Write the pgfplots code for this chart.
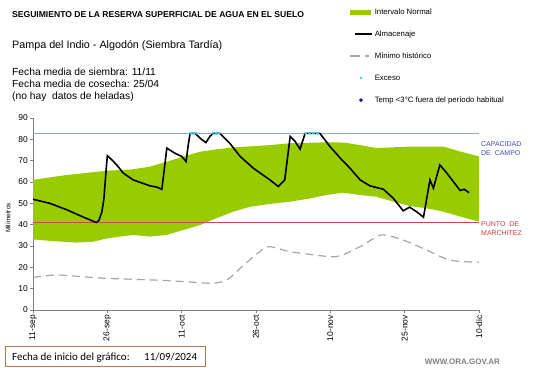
\documentclass[border=0pt]{standalone}
\usepackage{pgfplots}
\pgfplotsset{compat=1.18}
\usepackage{fontspec}
\setmainfont{Liberation Sans}
\newfontfamily\calibri{Carlito}
\definecolor{bandgreen}{HTML}{99CC00}
\definecolor{capblue}{HTML}{8FA8D8}
\definecolor{wiltred}{HTML}{C0504D}
\definecolor{labblue}{HTML}{4646B4}
\definecolor{labred}{HTML}{C83C3C}
\definecolor{mingray}{HTML}{A6A6A6}
\definecolor{excyan}{HTML}{33CCDD}
\definecolor{tempnavy}{HTML}{1A1A8C}
\definecolor{axgray}{HTML}{7F7F7F}
\begin{document}
\begin{tikzpicture}
\useasboundingbox (0,0) rectangle (541bp,368bp);
% texts
\node[anchor=base west, inner sep=0, font=\bfseries\fontsize{8.6}{10}\selectfont] at (12bp,350bp) {SEGUIMIENTO DE LA RESERVA SUPERFICIAL DE AGUA EN EL SUELO};
\node[anchor=base west, inner sep=0, font=\fontsize{10.8}{12}\selectfont] at (12bp,319bp) {Pampa del Indio - Algodón (Siembra Tardía)};
\node[anchor=base west, inner sep=0, font=\fontsize{10.3}{12}\selectfont] at (12bp,292bp) {Fecha media de siembra: 11/11};
\node[anchor=base west, inner sep=0, font=\fontsize{10.3}{12}\selectfont] at (12bp,280bp) {Fecha media de cosecha: 25/04};
\node[anchor=base west, inner sep=0, font=\fontsize{10.3}{12}\selectfont] at (12bp,268bp) {(no hay\ \ datos de heladas)};
\node[rotate=90, inner sep=0, font=\fontsize{6.5}{7}\selectfont] at (8bp,150bp) {Milímetros};
\node[anchor=north west, inner sep=0, align=left, text=labblue, font=\fontsize{7}{9}\selectfont] at (481bp,227bp) {CAPACIDAD\\DE\ \ CAMPO};
\node[anchor=north west, inner sep=0, align=left, text=labred, font=\fontsize{7}{9}\selectfont] at (481bp,147bp) {PUNTO\ \ DE\\MARCHITEZ};
\draw[draw=brown!60!gray, line width=0.6bp] (5bp,2bp) rectangle (205bp,22bp);
\node[anchor=base west, inner sep=0, font=\calibri\fontsize{11}{12}\selectfont] at (12bp,8bp) {Fecha de inicio del gráfico:};
\node[anchor=base west, inner sep=0, font=\calibri\fontsize{11}{12}\selectfont] at (144bp,8bp) {11/09/2024};
\node[anchor=base east, inner sep=0, text=gray, font=\bfseries\fontsize{8}{9}\selectfont] at (500bp,4bp) {WWW.ORA.GOV.AR};
\begin{axis}[
  at={(33bp,58bp)}, anchor=south west,
  scale only axis, width=446bp, height=192bp,
  xmin=0, xmax=90, ymin=0, ymax=90,
  axis x line=bottom, axis y line=left,
  axis line style={draw=axgray, line width=0.8bp, -},
  xtick={0,15,30,45,60,75,90},
  xticklabels={11-sep,26-sep,11-oct,26-oct,10-nov,25-nov,10-dic},
  ytick={0,10,...,90},
  tick align=outside, major tick length=3bp,
  tick style={draw=axgray, line width=0.6bp},
  x tick label style={rotate=90, anchor=east, font=\fontsize{8.5}{9}\selectfont, inner sep=2bp},
  y tick label style={font=\fontsize{8.5}{9}\selectfont, inner sep=2bp},
  /pgf/number format/assume math mode=true,
  clip=false,
  legend style={at={(axis cs:63.2,142.8)}, anchor=north west, draw=none, fill=none,
    font=\fontsize{7.8}{9}\selectfont, row sep=13bp, column sep=2bp,
    nodes={inner sep=0pt, text height=7bp, text depth=2bp}},
  legend cell align=left,
]
\addlegendimage{draw=none, mark=none, legend image code/.code={\fill[bandgreen] (0bp,-2.5bp) rectangle (21bp,2.5bp);}}
\addlegendentry{Intervalo Normal}
\addlegendimage{draw=none, mark=none, legend image code/.code={\path[draw=none] (0bp,0) -- (22bp,0); \draw[black, solid, line width=1.6bp] (5bp,0) -- (22bp,0);}}
\addlegendentry{Almacenaje}
\addlegendimage{draw=none, mark=none, legend image code/.code={\path[draw=none] (0bp,0) -- (22bp,0); \draw[mingray, solid, line width=1.2bp] (0bp,0) -- (10bp,0); \draw[mingray, solid, line width=1.2bp] (15bp,0) -- (19bp,0);}}
\addlegendentry{Mínimo histórico}
\addlegendimage{draw=none, mark=none, legend image code/.code={\path[draw=none] (0bp,0) -- (22bp,0); \fill[excyan] (11bp,0) circle (1.3bp);}}
\addlegendentry{Exceso}
\addlegendimage{draw=none, mark=none, legend image code/.code={\path[draw=none] (0bp,0) -- (22bp,0); \fill[tempnavy] (11bp,2bp) -- (13bp,0) -- (11bp,-2bp) -- (9bp,0) -- cycle;}}
\addlegendentry{Temp <3°C fuera del período habitual}
% normal band
\addplot[fill=bandgreen, draw=none, forget plot] coordinates {
(0,61) (6.8,63.3) (15,65.3) (20,65.9) (23.6,67.2) (27,69.5) (30.3,71.9) (33.7,74.2) (37,75.3) (40.4,76.2) (47.8,77.3) (52,78.2) (59.3,78.6) (62.7,78.5) (66,77.3) (69.3,75.9) (76,76.6) (82.8,76.6) (86.2,74.3) (90,72)
(90,41.4) (86.2,43.8) (82.8,46.1) (79.4,47.7) (76,48.75) (72.7,50.8) (69.3,53.1) (66,53.9) (62.6,55) (59.2,53.9) (55.9,52.3) (52,50.8) (47.8,49.7) (43.8,48.4) (40.4,46.1) (37,43) (33.7,39.8) (30.3,37.5) (27,35.2) (23.6,34.4) (20.2,35.2) (15,33.6) (12.1,32) (8.8,31.6) (3.4,32.4) (0,33.1)
} -- cycle;
% capacity & wilting
\addplot[capblue, line width=0.9bp, forget plot] coordinates {(0,82.7) (90,82.7)};
\addplot[wiltred, line width=0.9bp, forget plot] coordinates {(0,41) (90,41)};
% minimum historico
\addplot[mingray, line width=1.2bp, dash pattern=on 8bp off 5bp, smooth, tension=0.4, forget plot] coordinates {
(0,15.3) (4.7,16.4) (10,15.6) (15,14.8) (20.2,14.4) (27,13.8) (33.7,12.8) (36.4,12.5) (39.1,14) (41.8,19.5) (44.5,25) (47.5,29.7) (52,27.3) (61,25) (66,29.7) (70.3,35.2) (74.7,32.8) (79.4,28.1) (83.5,23.8) (86.2,22.7) (90,22.4)
};
% almacenaje
\addplot[black, line width=1.6bp, forget plot] coordinates {
(0,51.9) (3.4,50) (6.8,47) (10,43.7) (12.8,41) (13.3,42) (13.9,46) (14.3,52) (14.7,64) (15,72.3) (15.9,70.4) (16.9,68) (18.2,64.2) (20.2,61) (23.6,58.2) (25,57.6) (26,56.6) (26.5,66) (27,75.9) (27.6,75) (28.7,73.4) (30,72) (30.9,69.6) (31.3,77) (31.7,82.8) (32.7,82.8) (34,80) (34.9,78.5) (35.7,81.4) (36.4,82.8) (37.7,82.8) (39.7,78.2) (41.8,72) (44.5,66.4) (47.8,61) (49.5,57.9) (50.8,61) (51.9,81.4) (52.9,79) (53.9,75.4) (54.9,82.8) (57.9,82.8) (59.9,76.7) (62,71.2) (64,66.4) (66,61) (68,58.2) (70.7,56.6) (72.7,52.4) (74.7,46.5) (76,48.2) (77.4,46.1) (78.8,43.5) (80.1,61) (80.8,57.1) (82.1,68) (83.5,64.2) (86.2,56) (87,56.6) (88,55)
};
% exceso
\addplot[only marks, mark=*, mark size=1.1bp, excyan, forget plot] coordinates {
(31.8,82.8) (32.4,82.8) (33,82.8) (36.3,82.8) (37,82.8) (37.6,82.8) (55,82.8) (55.8,82.8) (56.6,82.8) (57.4,82.8)
};
\end{axis}
\end{tikzpicture}
\end{document}
